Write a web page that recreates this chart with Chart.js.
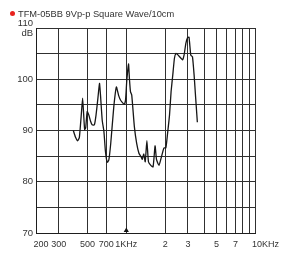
<!DOCTYPE html>
<html><head><meta charset="utf-8">
<script src="https://cdn.jsdelivr.net/npm/chart.js@4.4.1/dist/chart.umd.min.js"></script>
<style>
html,body{margin:0;padding:0;background:#fff;}
#wrap{position:relative;width:285px;height:253px;overflow:hidden;}
#c{position:absolute;left:0;top:0;}
#hdr{position:absolute;left:10px;top:8px;font-family:"Liberation Sans",Arial,sans-serif;font-size:9.3px;color:#333;line-height:12px;white-space:nowrap;}
#dot{display:inline-block;width:5px;height:5px;border-radius:50%;background:#e8231f;margin-right:3px;vertical-align:1px;}
</style></head>
<body><div id="wrap"><canvas id="c" width="285" height="253"></canvas><div id="hdr"><span id="dot"></span><span id="ttl"></span></div></div>
<script>
const seriesName = 'TFM-05BB 9Vp-p Square Wave/10cm';
const freqHz = [389,403,420,433,448,459,468,476,485,498,513,529,544,566,583,604,620,631,651,671,689,711,732,758,800,838,873,904,965,987,1009,1040,1058,1077,1102,1155,1203,1254,1299,1329,1365,1401,1443,1484,1548,1612,1670,1714,1791,1855,1955,2024,2086,2160,2222,2289,2358,2425,2499,2648,2728,2800,2891,2978,3058,3156,3251,3349,3444,3548];
const levelDb = [90.0,88.8,88.0,88.6,93.0,96.3,93.0,90.2,90.5,93.7,93.0,91.8,91.1,91.1,93.0,96.5,99.2,97.0,92.0,89.8,86.0,83.8,84.2,87.5,94.6,98.5,96.8,95.9,95.1,96.0,99.8,103.0,100.0,97.6,96.9,90.7,87.5,85.5,84.9,84.4,85.4,83.9,88.0,83.9,83.2,82.9,87.0,84.3,83.2,84.5,86.6,86.6,89.4,93.0,97.6,100.8,104.1,105.05,104.8,104.1,103.8,104.7,107.0,108.1,108.2,104.7,104.4,100.8,96.3,91.6];
const xTickValues = [200,300,500,700,1000,2000,3000,4000,5000,6000,7000,8000,9000,10000];
const xTickTexts  = ['200','300','500','700','1KHz','2','3','','5','','7','','','10KHz'];
const yTickValues = [70,80,90,100,110];
const yTickTexts  = ['70','80','90','100','110'];
const yUnit = 'dB';
const markerFreq = [1000];
const markerLevel = [70.5];

document.getElementById('ttl').textContent = seriesName;

const fam = '"Liberation Sans", Arial, sans-serif';
// end labels sit a little to the right of their grid line in the original
const edgeLead = (i) => i === 0 ? '    ' : (i === xTickValues.length - 1 ? '        ' : '');
new Chart(document.getElementById('c'), {
  type: 'line',
  data: {
    datasets: [{
      label: seriesName,
      data: freqHz.map((f, i) => ({x: f, y: levelDb[i]})),
      borderColor: '#161616',
      borderWidth: 1.3,
      pointRadius: 0,
      tension: 0.15,
      fill: false
    }, {
      label: 'marker',
      data: markerFreq.map((f, i) => ({x: f, y: markerLevel[i]})),
      showLine: false,
      pointStyle: 'triangle',
      pointRadius: 3,
      pointBackgroundColor: '#111',
      pointBorderColor: '#111',
      pointBorderWidth: 0,
      clip: false
    }]
  },
  options: {
    responsive: false,
    animation: false,
    devicePixelRatio: 1,
    layout: {padding: {top: 28, left: 10, right: 26, bottom: 0}},
    plugins: {legend: {display: false}, tooltip: {enabled: false}, title: {display: false}},
    scales: {
      x: {
        type: 'logarithmic',
        min: 200, max: 10000,
        afterBuildTicks: s => { s.ticks = xTickValues.map(v => ({value: v})); },
        afterFit: s => { s.height = 20; },
        grid: {color: '#303030', lineWidth: 1, drawTicks: false},
        border: {color: '#1e1e1e', width: 1},
        ticks: {
          autoSkip: false, maxRotation: 0, minRotation: 0, padding: 6, color: '#333',
          font: {family: fam, size: 9},
          callback: (v) => { const i = xTickValues.indexOf(v); return i >= 0 ? edgeLead(i) + xTickTexts[i] : ''; }
        }
      },
      y: {
        type: 'linear',
        min: 70, max: 110,
        afterFit: s => { s.width = 26; },
        grid: {color: '#303030', lineWidth: 1, drawTicks: false},
        border: {color: '#1e1e1e', width: 1},
        ticks: {
          stepSize: 5, padding: 3, color: '#333', font: {family: fam, size: 9.5, lineHeight: 1.05},
          callback: (v) => {
            const i = yTickValues.indexOf(v);
            if (i < 0) return '';
            return i === yTickValues.length - 1 ? [yTickTexts[i], yUnit] : yTickTexts[i];
          }
        }
      }
    }
  }
});
</script>
</body></html>
